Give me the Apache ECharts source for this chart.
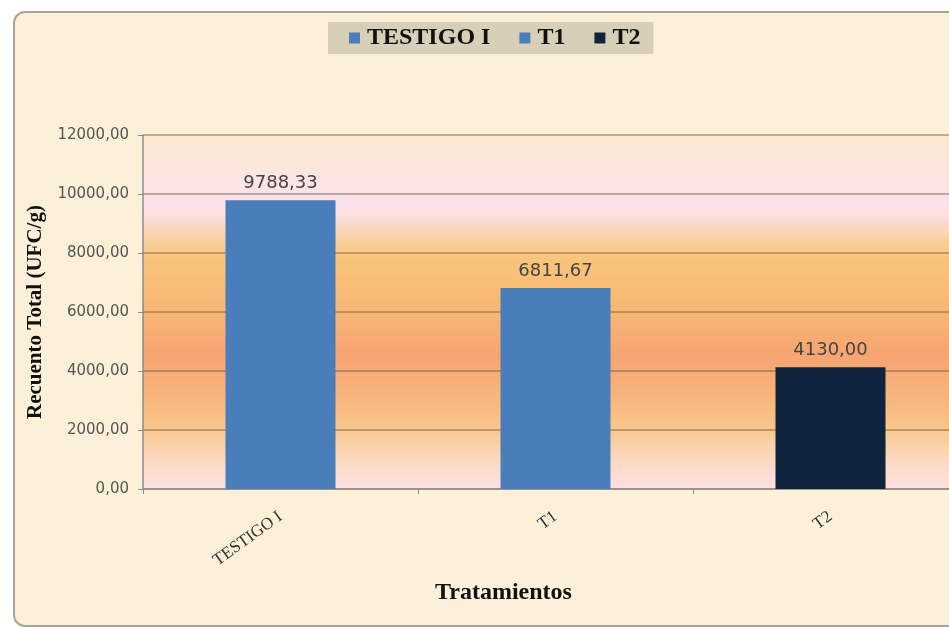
<!DOCTYPE html>
<html>
<head>
<meta charset="utf-8">
<script src="https://cdn.jsdelivr.net/npm/echarts@6/dist/echarts.min.js"></script>
<style>
html,body{margin:0;padding:0;background:#ffffff;overflow:hidden;width:949px;height:628px;}
#chart{width:990px;height:628px;}
</style>
</head>
<body>
<div id="chart"></div>
<script>
var categories = ['TESTIGO I', 'T1', 'T2'];
var seriesNames = ['TESTIGO I', 'T1', 'T2'];
var values = [9788.33, 6811.67, 4130.00];
var yTicks = [0, 2000, 4000, 6000, 8000, 10000, 12000];
var yTickLabels = ['0,00', '2000,00', '4000,00', '6000,00', '8000,00', '10000,00', '12000,00'];
var barColors = ['#4a7ebb', '#4a7ebb', '#10243e'];

function fmt(v) { return v.toFixed(2).replace('.', ','); }

var series = seriesNames.map(function (name, i) {
  var data = categories.map(function (c, j) { return j === i ? values[i] : '-'; });
  return {
    name: name,
    type: 'bar',
    stack: 'all',
    barWidth: '40%',
    data: data,
    itemStyle: { color: barColors[i] },
    label: {
      show: true,
      position: 'top',
      distance: 8,
      formatter: function (p) { return fmt(p.value); },
      color: '#444444',
      fontFamily: 'DejaVu Sans',
      fontSize: 18
    }
  };
});

var chart = echarts.init(document.getElementById('chart'), null, { renderer: 'canvas' });
chart.setOption({
  animation: false,
  backgroundColor: '#ffffff',
  graphic: [{
    type: 'rect',
    z: -100,
    silent: true,
    shape: { x: 14, y: 12, width: 1000, height: 614, r: 11 },
    style: { fill: '#fcf0d8', stroke: '#aaa498', lineWidth: 2 }
  }],
  legend: {
    left: 328,
    top: 22,
    itemWidth: 11,
    itemHeight: 11,
    itemGap: 29,
    icon: 'rect',
    backgroundColor: '#d7cfb7',
    padding: [4, 13, 4, 21],
    data: seriesNames,
    textStyle: {
      fontFamily: 'Liberation Serif',
      fontWeight: 'bold',
      fontSize: 24,
      color: '#111111',
      padding: [0, 0, 0, 2]
    }
  },
  grid: {
    left: 143,
    top: 135,
    height: 354,
    width: 825,
    show: true,
    borderWidth: 0,
    backgroundColor: {
      type: 'linear', x: 0, y: 0, x2: 0, y2: 1,
      colorStops: [
        { offset: 0, color: '#fbe9d3' },
        { offset: 0.1, color: '#fce6df' },
        { offset: 0.17, color: '#fbe3ea' },
        { offset: 0.23, color: '#fbdfdf' },
        { offset: 0.3, color: '#f9cf9c' },
        { offset: 0.35, color: '#f8c47a' },
        { offset: 0.5, color: '#f8b674' },
        { offset: 0.62, color: '#f7a472' },
        { offset: 0.75, color: '#f8b67e' },
        { offset: 0.83, color: '#f9c88c' },
        { offset: 0.92, color: '#fbd9c2' },
        { offset: 1, color: '#fce1e3' }
      ]
    }
  },
  xAxis: {
    type: 'category',
    data: categories,
    name: 'Tratamientos',
    nameLocation: 'middle',
    nameGap: 92,
    nameTextStyle: {
      fontFamily: 'Liberation Serif',
      fontWeight: 'bold',
      fontSize: 24,
      color: '#111111',
      padding: [0, 104, 0, 0]
    },
    axisLine: { lineStyle: { color: '#8c8c8c', width: 1.5 } },
    axisTick: { show: true, length: 5, lineStyle: { color: '#8c8c8c' } },
    axisLabel: {
      rotate: 36,
      margin: 26,
      fontFamily: 'Liberation Serif',
      fontSize: 17,
      color: '#333333'
    }
  },
  yAxis: {
    type: 'value',
    min: yTicks[0],
    max: yTicks[yTicks.length - 1],
    interval: yTicks[1] - yTicks[0],
    name: 'Recuento Total (UFC/g)',
    nameLocation: 'middle',
    nameGap: 95,
    nameTextStyle: {
      fontFamily: 'Liberation Serif',
      fontWeight: 'bold',
      fontSize: 21,
      color: '#111111'
    },
    axisLine: { show: true, lineStyle: { color: '#8c8c8c', width: 1.5 } },
    axisTick: { show: true, length: 5, lineStyle: { color: '#8c8c8c' } },
    axisLabel: {
      margin: 14,
      fontFamily: 'DejaVu Sans',
      fontSize: 15,
      color: '#555555',
      formatter: function (v) {
        var k = yTicks.indexOf(v);
        return k >= 0 ? yTickLabels[k] : fmt(v);
      }
    },
    splitLine: { show: true, lineStyle: { color: 'rgba(110,80,60,0.55)', width: 1.5 } }
  },
  series: series
});
</script>
</body>
</html>
